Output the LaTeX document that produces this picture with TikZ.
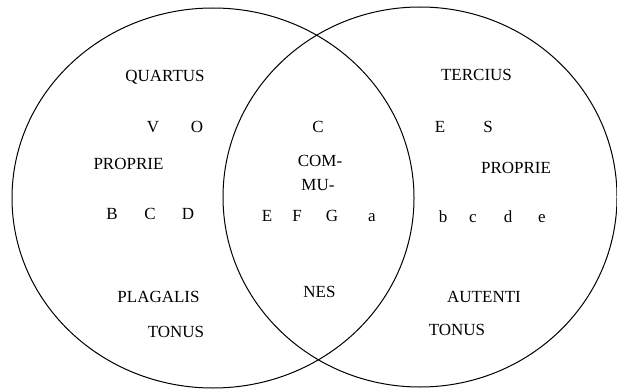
\documentclass[tikz,border=0pt]{standalone}
\usepackage{fontspec}
\setmainfont{Liberation Serif}
\begin{document}
\begin{tikzpicture}[x=1pt,y=-1pt,
  lbl/.style={inner sep=0pt, anchor=base, font=\fontsize{17}{20}\selectfont},
  ring/.style={draw=black, line width=1pt}]
\useasboundingbox (0,0) rectangle (617,390);
\fill[white] (0,0) rectangle (617,390);
\draw[ring] (213,198) ellipse [x radius=201, y radius=190];
\draw[ring] (420,197) ellipse [x radius=197, y radius=190];
% left circle
\node[lbl] (quartus) at (165,82) {QUARTUS};
\node[lbl] (lV) at (153,132) {V};
\node[lbl] (lO) at (197,132) {O};
\node[lbl] (proprieL) at (128.5,169) {PROPRIE};
\node[lbl] (lB) at (112,219) {B};
\node[lbl] (lC) at (150,219) {C};
\node[lbl] (lD) at (188,219) {D};
\node[lbl] (plagalis) at (158.5,302) {PLAGALIS};
\node[lbl] (tonusL) at (176,337) {TONUS};
% middle
\node[lbl] (mC) at (318,132) {C};
\node[lbl] (com) at (320,166) {COM-};
\node[lbl] (mu) at (318,190) {MU-};
\node[lbl] (mE) at (267,221) {E};
\node[lbl] (mF) at (297,221) {F};
\node[lbl] (mG) at (332,221) {G};
\node[lbl] (ma) at (372,221) {a};
\node[lbl] (nes) at (319.5,297) {NES};
% right circle
\node[lbl] (tercius) at (476.5,81) {TERCIUS};
\node[lbl] (rE) at (440,133) {E};
\node[lbl] (rS) at (488,133) {S};
\node[lbl] (proprieR) at (516,173) {PROPRIE};
\node[lbl] (rb) at (443,222) {b};
\node[lbl] (rc) at (473,222) {c};
\node[lbl] (rd) at (508,222) {d};
\node[lbl] (re) at (542,222) {e};
\node[lbl] (autenti) at (484,302) {AUTENTI};
\node[lbl] (tonusR) at (457,335) {TONUS};
\end{tikzpicture}
\end{document}
